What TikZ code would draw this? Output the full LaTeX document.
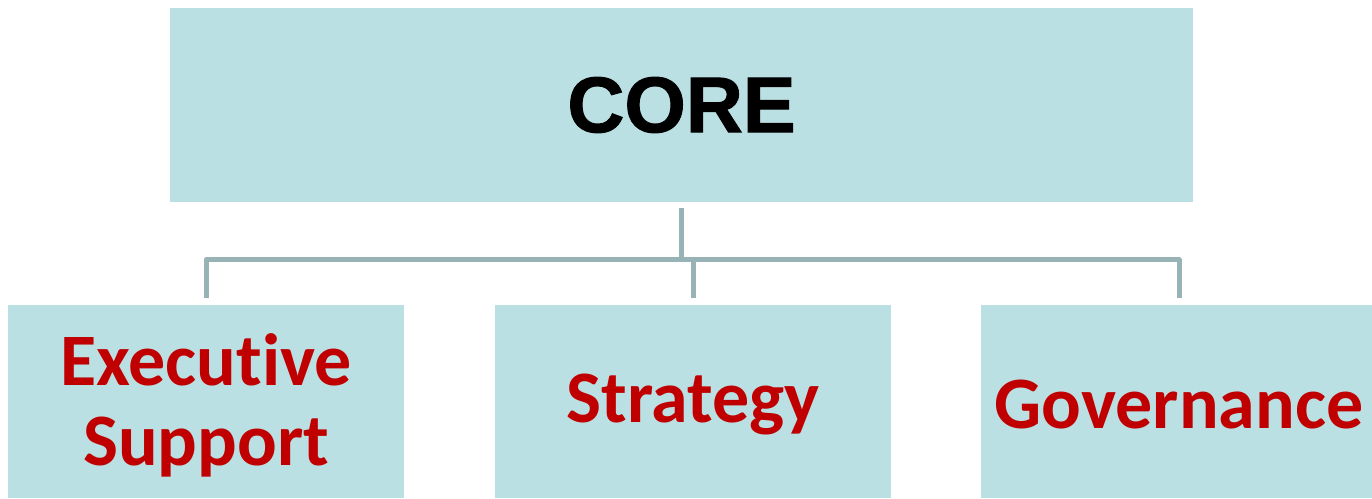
\documentclass[tikz,border=0pt]{standalone}
\usepackage{fontspec}
\setmainfont[Ligatures=NoCommon]{Carlito}
\newfontfamily\headfont[BoldFeatures={FakeBold=1.2}]{Liberation Sans}
\definecolor{boxfill}{HTML}{BBE0E3}
\definecolor{linkgray}{HTML}{97B3B6}
\definecolor{labelred}{HTML}{C00000}
\begin{document}
\begin{tikzpicture}[x=1pt,y=1pt,
  box/.style={fill=boxfill,draw=none,inner sep=0pt,anchor=center},
  headtext/.style={font=\headfont\bfseries\fontsize{79}{80}\selectfont,text=black},
  subtext/.style={font=\bfseries\fontsize{74}{80}\selectfont,text=labelred,align=center},
  conn/.style={draw=linkgray,line width=5pt,line join=round}]
\useasboundingbox (0,0) rectangle (1372,498);
\begin{scope}
\clip (0,0) rectangle (1372,498);
% top box
\node[box,minimum width=1023pt,minimum height=194pt] (top) at (681.5,393) {};
\node[headtext] (toplabel) at (top.center) {CORE};
% lower boxes
\node[box,minimum width=396pt,minimum height=193pt] (b1) at (206,96.5) {};
\node[box,minimum width=396pt,minimum height=193pt] (b2) at (693,96.5) {};
\node[box,minimum width=396pt,minimum height=193pt] (b3) at (1179,96.5) {};
\end{scope}
\node[subtext] (l1) at (206,93) {Executive\\Support};
\node[subtext] (l2) at (693,93) {Strategy};
\node[subtext] (l3) at (1179,93) {Governance};
% bus connectors
\coordinate (bus) at (681,238);
\draw[conn] ([yshift=-6pt]top.south) -- (top.south |- bus);
\draw[conn] ([yshift=7pt]b1.north) -- (b1.north |- bus) -- (b3.north |- bus) -- ([yshift=7pt]b3.north);
\draw[conn] ([yshift=7pt]b2.north) -- (b2.north |- bus);
\end{tikzpicture}
\end{document}
